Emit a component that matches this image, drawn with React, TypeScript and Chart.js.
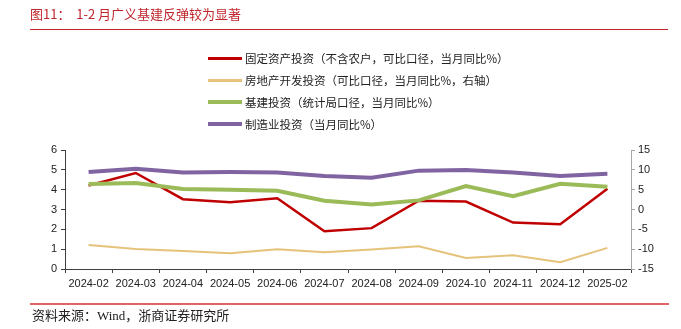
import React, { useEffect, useRef } from "react";
import { Chart, registerables } from "chart.js";

Chart.register(...registerables);

const categories = [
  "2024-02", "2024-03", "2024-04", "2024-05", "2024-06", "2024-07",
  "2024-08", "2024-09", "2024-10", "2024-11", "2024-12", "2025-02",
];
const faiValues = [4.21, 4.84, 3.52, 3.37, 3.57, 1.9, 2.06, 3.44, 3.4, 2.34, 2.26, 4.05];
const realEstateValues = [-8.93, -9.94, -10.44, -11.03, -10.02, -10.78, -10.1, -9.26, -12.2, -11.54, -13.3, -9.68];
const infraValues = [4.28, 4.33, 4.03, 3.99, 3.94, 3.44, 3.25, 3.46, 4.18, 3.67, 4.3, 4.15];
const mfgValues = [4.89, 5.06, 4.87, 4.89, 4.87, 4.69, 4.6, 4.96, 4.99, 4.87, 4.69, 4.8];

const seriesNames = [
  "固定资产投资（不含农户，可比口径，当月同比%）",
  "房地产开发投资（可比口径，当月同比%，右轴）",
  "基建投资（统计局口径，当月同比%）",
  "制造业投资（当月同比%）",
];
const seriesColors = ["#C00000", "#E5C37B", "#9BBB59", "#8064A2"];
const seriesWidths = [2.5, 2, 4, 4];

const titleText = "图11：  1-2 月广义基建反弹较为显著";
const sourceText = "资料来源：Wind，浙商证券研究所";

export default function App() {
  const canvasRef = useRef<HTMLCanvasElement | null>(null);

  useEffect(() => {
    if (!canvasRef.current) return;
    const tickFont = { family: "'Liberation Sans', Arial, sans-serif", size: 11 };
    const chart = new Chart(canvasRef.current, {
      type: "line",
      data: {
        labels: categories,
        datasets: [
          { label: seriesNames[0], data: faiValues, yAxisID: "y", borderColor: seriesColors[0], borderWidth: seriesWidths[0], order: 4 },
          { label: seriesNames[1], data: realEstateValues, yAxisID: "y1", borderColor: seriesColors[1], borderWidth: seriesWidths[1], order: 3 },
          { label: seriesNames[2], data: infraValues, yAxisID: "y", borderColor: seriesColors[2], borderWidth: seriesWidths[2], order: 2 },
          { label: seriesNames[3], data: mfgValues, yAxisID: "y", borderColor: seriesColors[3], borderWidth: seriesWidths[3], order: 1 },
        ].map((d) => ({ ...d, pointRadius: 0, tension: 0, fill: false, backgroundColor: d.borderColor })),
      },
      options: {
        responsive: false,
        animation: false,
        layout: { padding: { left: 0, right: 0, top: 150, bottom: 0 } },
        plugins: { legend: { display: false }, tooltip: { enabled: false }, title: { display: false } },
        scales: {
          x: {
            type: "category",
            offset: true,
            grid: { display: true, drawOnChartArea: false, drawTicks: true, tickLength: 4, color: "#404040", offset: true },
            border: { display: true, color: "#404040", width: 1 },
            ticks: { font: tickFont, color: "#222", padding: 4, maxRotation: 0, autoSkip: false },
            afterFit: (s: any) => { s.height = 60; },
          },
          y: {
            position: "left",
            min: 0,
            max: 6,
            ticks: { stepSize: 1, font: tickFont, color: "#222", padding: 4 },
            grid: { display: true, drawOnChartArea: false, drawTicks: true, tickLength: 4, color: "#404040" },
            border: { display: true, color: "#404040", width: 1 },
            afterFit: (s: any) => { s.width = 65; },
          },
          y1: {
            position: "right",
            min: -15,
            max: 15,
            ticks: { stepSize: 5, font: tickFont, color: "#222", padding: 3 },
            grid: { display: true, drawOnChartArea: false, drawTicks: true, tickLength: 4, color: "#a6a6a6" },
            border: { display: true, color: "#a6a6a6", width: 1 },
            afterFit: (s: any) => { s.width = 50; },
          },
        },
      },
    } as any);
    return () => chart.destroy();
  }, []);

  const cjk = "'Noto Sans CJK SC', sans-serif";
  return (
    <div style={{ position: "fixed", left: 0, top: 0, width: 681, height: 329, background: "#fff", overflow: "hidden" }}>
      <canvas ref={canvasRef} width={681} height={329} style={{ position: "absolute", left: 0, top: 0 }} />
      <div style={{ position: "absolute", left: 30, top: 5, fontFamily: cjk, fontSize: 13, color: "#C0272D", whiteSpace: "pre", lineHeight: "18px" }}>
        {titleText}
      </div>
      <div style={{ position: "absolute", left: 30, top: 29, width: 638, height: 1, background: "#C0272D" }} />
      <div style={{ position: "absolute", left: 208, top: 47, fontFamily: cjk, fontSize: 11.5, color: "#222" }}>
        {seriesNames.map((n, i) => (
          <div key={i} style={{ display: "flex", alignItems: "center", height: 22.1 }}>
            <div style={{ width: 34, height: seriesWidths[i] >= 4 ? 4 : 3, background: seriesColors[i], marginRight: 3 }} />
            <span style={{ whiteSpace: "pre", lineHeight: "16px" }}>{n}</span>
          </div>
        ))}
      </div>
      <div style={{ position: "absolute", left: 30, top: 303, width: 639, height: 2, background: "#E06666" }} />
      <div style={{ position: "absolute", left: 32, top: 308, fontFamily: "'Liberation Serif', 'Noto Sans CJK SC', serif", fontSize: 13, color: "#222", lineHeight: "16px" }}>
        {sourceText}
      </div>
    </div>
  );
}
